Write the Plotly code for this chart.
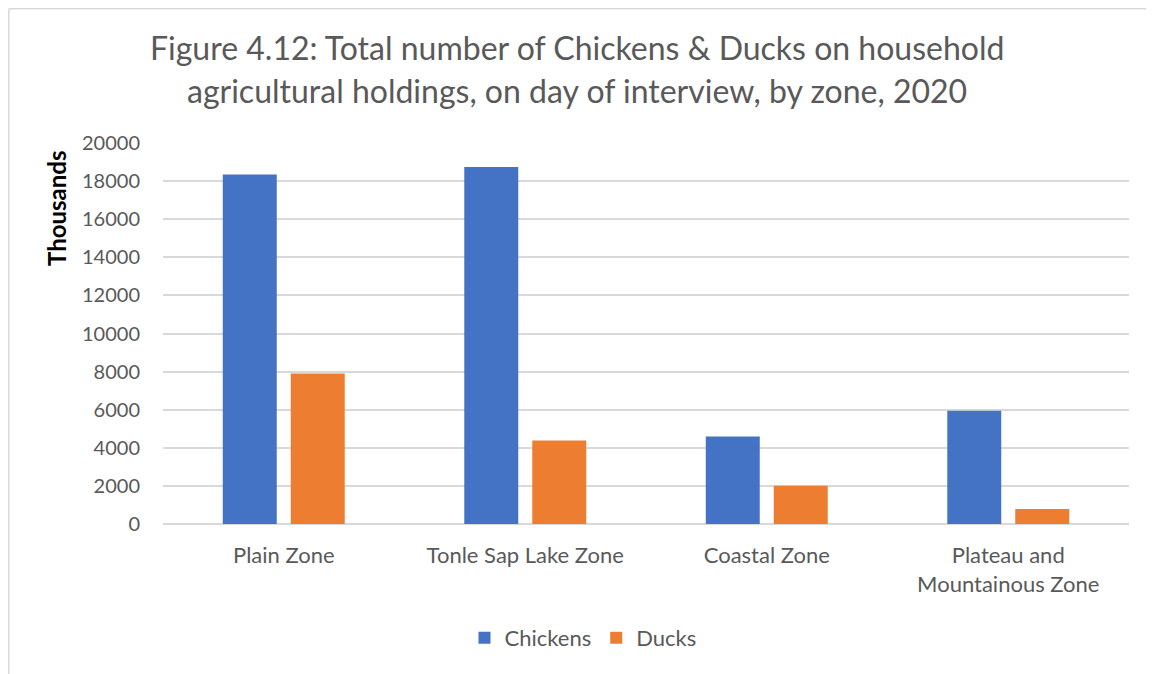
import plotly.graph_objects as go

zones = ["Plain Zone", "Tonle Sap Lake Zone", "Coastal Zone", "Plateau and<br>Mountainous Zone"]
chickens = [18340, 18740, 4590, 5950]
ducks = [7900, 4380, 2010, 790]
y_ticks = [0, 2000, 4000, 6000, 8000, 10000, 12000, 14000, 16000, 18000, 20000]

# page body has an 8px margin; figure coordinates = screen coordinates - OFF
OFF = 8
W, H = 1154 - OFF, 674 - OFF
L, T = 163 - OFF, 143 - OFF
R = W - (1129 - OFF)
B = H - (524 - OFF)
pw, ph = W - L - R, H - T - B

def px(x):
    return (x - OFF - L) / pw

def py(y):
    return (H - B - (y - OFF)) / ph

FONT = "Lato"
GRAY = "#595959"

fig = go.Figure()
fig.add_trace(go.Bar(name="Chickens", x=zones, y=chickens, marker=dict(color="#4472C4", line=dict(width=0))))
fig.add_trace(go.Bar(name="Ducks", x=zones, y=ducks, marker=dict(color="#ED7D31", line=dict(width=0))))

fig.update_layout(
    width=W, height=H,
    margin=dict(l=L, r=R, t=T, b=B, pad=0),
    paper_bgcolor="white", plot_bgcolor="white",
    barmode="group", bargap=0.437, bargroupgap=0.206,
    font=dict(family=FONT, size=20, color=GRAY),
    showlegend=True,
    legend=dict(orientation="h", x=px(583), xanchor="center", y=py(638), yanchor="middle",
                font=dict(size=22, color=GRAY), itemwidth=30, traceorder="normal"),
    xaxis=dict(showgrid=False, showline=False, ticks="", tickfont=dict(size=22, color=GRAY),
               ticklabelstandoff=16),
    yaxis=dict(range=[0, 20000], tickvals=y_ticks, ticktext=[str(v) for v in y_ticks],
               showgrid=True, gridcolor="#D9D9D9", gridwidth=1.5,
               zeroline=True, zerolinecolor="#D9D9D9", zerolinewidth=1.5,
               showline=False, ticks="", tickfont=dict(size=20, color=GRAY), ticklabelstandoff=22),
    annotations=[
        dict(text="Figure 4.12: Total number of Chickens & Ducks on household", xref="paper", yref="paper",
             x=px(577), y=py(47), xanchor="center", yanchor="middle", showarrow=False,
             font=dict(family=FONT, size=32, color=GRAY)),
        dict(text="agricultural holdings, on day of interview, by zone, 2020", xref="paper", yref="paper",
             x=px(577), y=py(90), xanchor="center", yanchor="middle", showarrow=False,
             font=dict(family=FONT, size=32, color=GRAY)),
        dict(text="<b>Thousands</b>", xref="paper", yref="paper", x=px(56), y=py(209),
             xanchor="center", yanchor="middle", textangle=-90, showarrow=False,
             font=dict(family=FONT, size=24, color="black")),
    ],
    shapes=[
        dict(type="line", xref="paper", yref="paper", x0=px(8.8), x1=px(1170), y0=py(8.8), y1=py(8.8),
             line=dict(color="#D9D9D9", width=1.5)),
        dict(type="line", xref="paper", yref="paper", x0=px(8.8), x1=px(8.8), y0=py(8.8), y1=py(690),
             line=dict(color="#D9D9D9", width=1.5)),
    ],
)

fig.write_html("out.html")
